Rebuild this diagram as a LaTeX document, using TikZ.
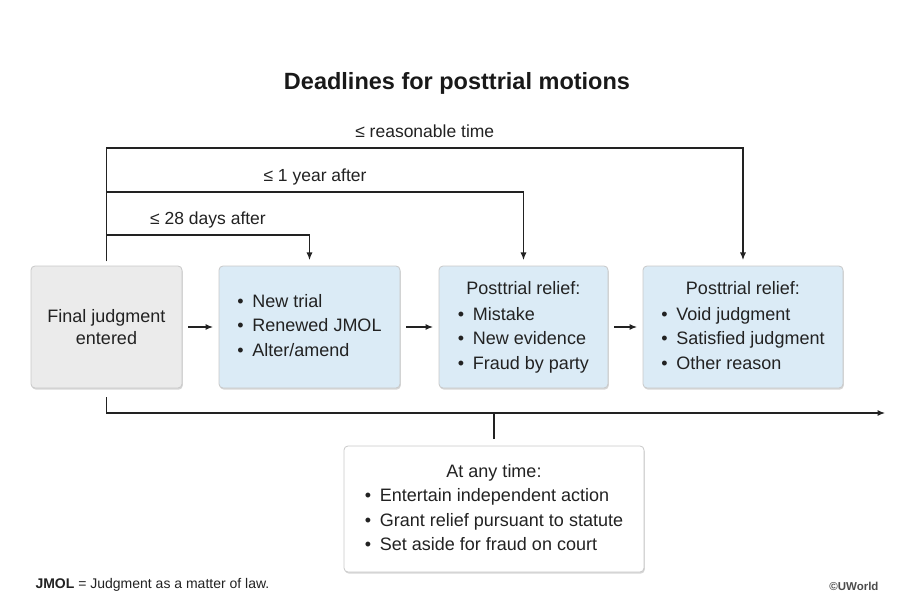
\documentclass[tikz,border=0pt]{standalone}
\usepackage{fontspec}
\setmainfont{Liberation Sans}
\usetikzlibrary{arrows.meta,shadows}

\definecolor{boxgray}{RGB}{235,235,235}
\definecolor{boxblue}{RGB}{219,235,246}
\definecolor{boxline}{RGB}{200,200,200}
\definecolor{inkgray}{RGB}{34,34,34}

\newcommand{\itm}{\makebox[15pt][l]{\textbullet}}

\tikzset{
  panel/.style={draw=boxline, line width=0.8pt, rounded corners=4pt, inner sep=0pt, outer sep=0pt,
    text=inkgray, font=\fontsize{18}{24.5}\selectfont,
    drop shadow={shadow xshift=0.8pt, shadow yshift=-1.6pt, opacity=0.35, fill=black!45}},
  graypanel/.style={panel, fill=boxgray, align=center, font=\fontsize{18}{22}\selectfont},
  bluepanel/.style={panel, fill=boxblue},
  whitepanel/.style={panel, fill=white},
  link/.style={draw=inkgray, line width=1.1pt},
  linkarrow/.style={link, -{Latex[length=7.5pt,width=6pt]}},
  timelabel/.style={anchor=base, yshift=10pt, text=inkgray, font=\fontsize{17.5}{20}\selectfont},
}

\begin{document}
\begin{tikzpicture}[x=1pt, y=-1pt]
    % Canvas
    \useasboundingbox (0,0) rectangle (922,615);

    % Title
    \node[anchor=base, text=black!90, font=\bfseries\fontsize{23.5}{27}\selectfont] (title) at (457,90) {Deadlines for posttrial motions};

    % Motion boxes
    \node[graypanel, minimum width=151pt, minimum height=122pt] (final) at (106.5,327) {Final judgment\\entered};
    \node[bluepanel, minimum width=181pt, minimum height=122pt] (newtrial) at (309.5,327)
        {\begin{tabular}{@{}l@{}}\itm New trial\\ \itm Renewed JMOL\\ \itm Alter/amend\end{tabular}};
    \node[bluepanel, minimum width=169pt, minimum height=122pt] (relief) at (523.5,327)
        {\begin{tabular}{@{}l@{}}\multicolumn{1}{@{}c@{}}{Posttrial relief:}\\[1pt] \itm Mistake\\ \itm New evidence\\ \itm Fraud by party\end{tabular}};
    \node[bluepanel, minimum width=200pt, minimum height=122pt] (vacate) at (743,327)
        {\begin{tabular}{@{}l@{}}\multicolumn{1}{@{}c@{}}{Posttrial relief:}\\[1pt] \itm Void judgment\\ \itm Satisfied judgment\\ \itm Other reason\end{tabular}};

    % -- any time box
    \node[whitepanel, minimum width=300pt, minimum height=126pt] (anytime) at (494,509)
        {\begin{tabular}{@{}l@{}}\multicolumn{1}{@{}c@{}}{At any time:}\\[0pt] \itm Entertain independent action\\ \itm Grant relief pursuant to statute\\ \itm Set aside for fraud on court\end{tabular}};

    % Arrows between boxes
    \draw[linkarrow, shorten <=6pt, shorten >=6pt] (final) -- (newtrial);
    \draw[linkarrow, shorten <=6pt, shorten >=6pt] (newtrial) -- (relief);
    \draw[linkarrow, shorten <=6pt, shorten >=6pt] (relief) -- (vacate);

    % Timeline
    \coordinate (tlend) at (885,413);
    \draw[linkarrow, shorten <=9pt] (final.south) |- (tlend);
    \draw[link, shorten <=7pt] (anytime.north) -- (anytime.north |- tlend);

    % Deadlines
    \coordinate (reasonable) at (106,148);
    \coordinate (oneyear) at (106,192);
    \coordinate (days) at (106,235);
    \draw[linkarrow, shorten <=5pt, shorten >=6pt] (final.north) |- (vacate.north |- reasonable)
        node[timelabel, pos=0.75] {≤ reasonable time} -- (vacate.north);
    \draw[linkarrow, shorten <=5pt, shorten >=6pt] (final.north) |- (relief.north |- oneyear)
        node[timelabel, pos=0.75] {≤ 1 year after} -- (relief.north);
    \draw[linkarrow, shorten <=5pt, shorten >=6pt] (final.north) |- (newtrial.north |- days)
        node[timelabel, pos=0.75] {≤ 28 days after} -- (newtrial.north);

    % Footer
    \node[anchor=base west, text=inkgray, font=\fontsize{14}{16}\selectfont] (note) at (32,588) {\textbf{JMOL} = Judgment as a matter of law.};
    \node[anchor=base east, text=black!70, font=\bfseries\fontsize{11.5}{13}\selectfont] (brand) at (882,590) {©UWorld};
\end{tikzpicture}
\end{document}
